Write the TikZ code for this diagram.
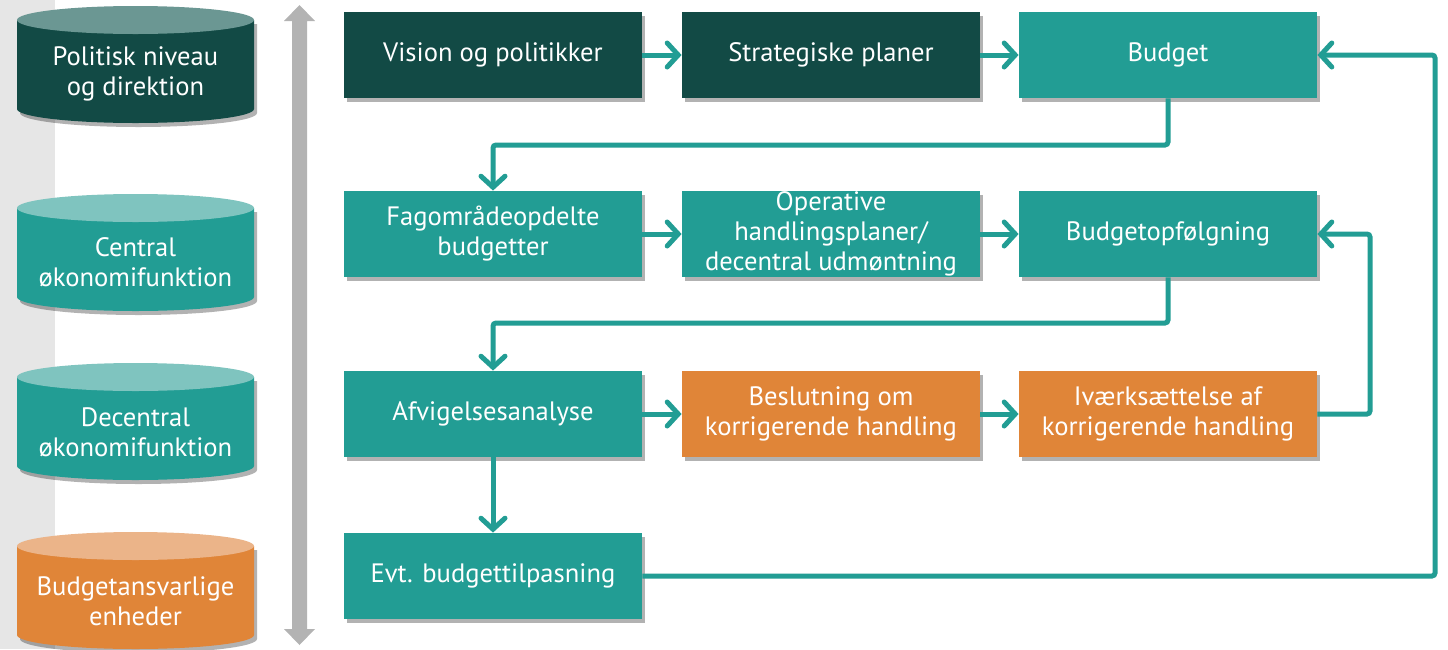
\documentclass[tikz,border=0pt]{standalone}
\usepackage{fontspec}
\setmainfont{PT Sans}
\usetikzlibrary{arrows.meta,shadows}

\definecolor{deepteal}{HTML}{124A45}
\definecolor{deeptealtop}{HTML}{6B9793}
\definecolor{mainteal}{HTML}{229D94}
\definecolor{mainteallight}{HTML}{7FC4BF}
\definecolor{mainorange}{HTML}{E08538}
\definecolor{mainorangelight}{HTML}{EBB489}
\definecolor{bandgray}{HTML}{E6E6E6}
\definecolor{axisgray}{HTML}{B3B3B3}

\tikzset{
  softshadow/.style={drop shadow={shadow xshift=1.5pt, shadow yshift=-2pt, opacity=0.3, fill=black}},
  stepbox/.style={rectangle, minimum width=149pt, minimum height=43pt, inner sep=0pt,
    text=white, align=center, font=\fontsize{13.3}{15}\selectfont, softshadow},
  darkbox/.style={stepbox, fill=deepteal},
  tealbox/.style={stepbox, fill=mainteal},
  orangebox/.style={stepbox, fill=mainorange},
  drumtext/.style={text=white, align=center, font=\fontsize{13.3}{15}\selectfont},
  conn/.style={draw=mainteal, line width=2.5pt, rounded corners=1.5pt,
    -{Straight Barb[length=5.5pt, width=12pt, line cap=round]}},
}

% a vertical drum: #1 top-ellipse centre y, #2 body colour, #3 top colour
\newcommand\drawdrum[3]{%
  \fill[#2, softshadow] (17,#1) -- (17,#1+89)
     arc[start angle=180, end angle=0, x radius=118.5, y radius=14] -- (254,#1) -- cycle;
  \fill[#3] (135.5,#1) ellipse[x radius=118.5, y radius=14];
}

\begin{document}
\begin{tikzpicture}[x=0.5pt, y=-0.5pt]
\useasboundingbox (0,0) rectangle (1448,649);

% left band
\fill[bandgray] (0,0) rectangle (55,649);

% level drums
\drawdrum{20}{deepteal}{deeptealtop}
\drawdrum{208}{mainteal}{mainteallight}
\drawdrum{377}{mainteal}{mainteallight}
\drawdrum{546}{mainorange}{mainorangelight}
\node[drumtext] (lvl1) at (135.5,74) {Politisk niveau\\og direktion};
\node[drumtext] (lvl2) at (135.5,262) {Central\\økonomifunktion};
\node[drumtext] (lvl3) at (135.5,432) {Decentral\\økonomifunktion};
\node[drumtext] (lvl4) at (135.5,601) {Budgetansvarlige\\enheder};

% two-headed vertical axis
\fill[axisgray] (299.5,5) -- (315,21) -- (307,21) -- (307,629) -- (315,629)
  -- (299.5,645) -- (284,629) -- (292,629) -- (292,21) -- (284,21) -- cycle;

% process steps
\node[darkbox] (vision) at (493,55) {Vision og politikker};
\node[darkbox] (strat) at (831,55) {Strategiske planer};
\node[tealbox] (budget) at (1168,55) {Budget};

\node[tealbox] (fag) at (493,234) {Fagområdeopdelte\\budgetter};
\node[tealbox] (oper) at (831,234) {Operative\\handlingsplaner/\\decentral udmøntning};
\node[tealbox] (opf) at (1168,234) {Budgetopfølgning};

\node[tealbox] (afv) at (493,414) {Afvigelsesanalyse};
\node[orangebox] (beslut) at (831,414) {Beslutning om\\korrigerende handling};
\node[orangebox] (ivaerk) at (1168,414) {Iværksættelse af\\korrigerende handling};

\node[tealbox] (evt) at (493,576) {Evt. budgettilpasning};

% routing helpers
\coordinate (row1gap) at (0,145);
\coordinate (row2gap) at (0,323);
\coordinate (innerloop) at (1370,0);
\coordinate (outerloop) at (1435,0);

% connectors
\draw[conn] (vision) -- (strat);
\draw[conn] (strat) -- (budget);
\draw[conn] (fag) -- (oper);
\draw[conn] (oper) -- (opf);
\draw[conn] (afv) -- (beslut);
\draw[conn] (beslut) -- (ivaerk);

\draw[conn] (budget.south) -- (budget.south |- row1gap) -- (fag.north |- row1gap) -- (fag.north);
\draw[conn] (opf.south) -- (opf.south |- row2gap) -- (afv.north |- row2gap) -- (afv.north);
\draw[conn] (afv) -- (evt);

\draw[conn] (ivaerk.east) -- (ivaerk.east -| innerloop) |- (opf.east);
\draw[conn] (evt.east) -- (evt.east -| outerloop) |- (budget.east);
\end{tikzpicture}
\end{document}
